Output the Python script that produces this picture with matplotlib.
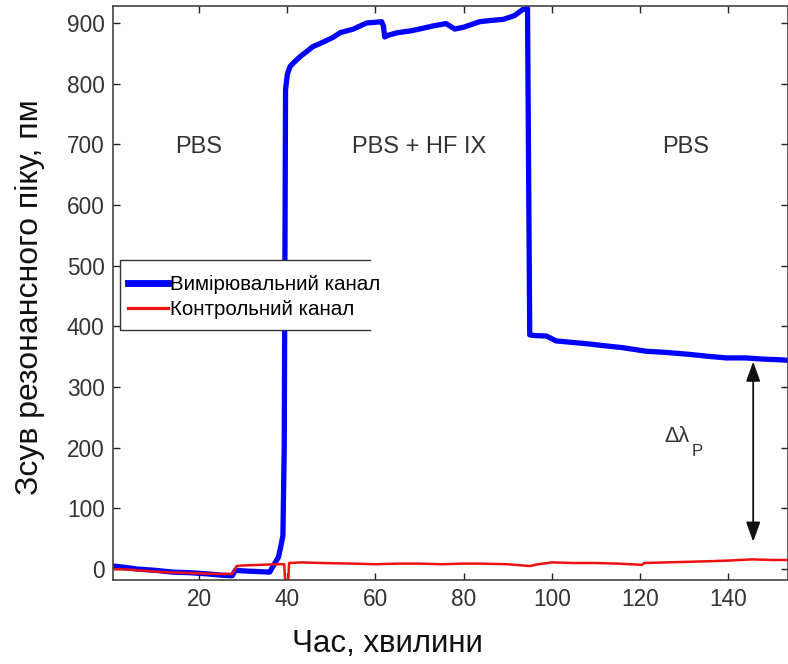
import matplotlib
matplotlib.use("Agg")
import matplotlib.pyplot as plt
from matplotlib.patches import Rectangle

plt.rcParams['font.family'] = ['Liberation Sans', 'DejaVu Sans']

# Measuring channel (blue)
blue_t = [0.5, 3, 6, 10, 14, 18, 22, 25, 27.5, 28.2, 30, 33, 36, 37.2, 38.0, 38.6, 39.0, 39.3,
          39.6, 40.0, 40.6, 41.5, 43, 45.8, 48, 50.3, 52, 55, 58, 61.4, 61.8, 62.1, 63, 65,
          68, 70, 73, 76, 78, 80, 83.6, 86, 89, 91.5, 93.4, 94.5, 94.8, 95.0, 96, 98.8, 101,
          104, 108.5, 112, 116, 121.4, 126, 131, 135, 139.6, 144, 148, 151.6, 153.6]
blue_v = [5, 3, 0, -2, -5, -6, -8, -10, -11, -2, -3, -4, -5, 10, 20, 40, 55, 200,
          790, 815, 828, 835, 845, 861, 868, 876, 884, 890, 900, 902, 895, 877, 880, 884,
          887, 890, 895, 899, 890, 893, 902, 904, 906, 912, 922, 924, 600, 386, 385, 384, 376,
          374, 371, 368, 365, 359, 357, 354, 351, 348, 348, 346, 345, 344]

# Control channel (red)
red_t = [0.5, 4, 8, 12, 16, 20, 24, 27.5, 28.5, 30, 34, 37, 39.3, 39.5, 40.2, 40.4, 43, 48,
         55, 60, 65, 70, 75, 80, 83.6, 90, 95, 97, 100, 105, 110, 115, 120.5, 121, 126, 131,
         136, 140, 145.5, 150, 153.6]
red_v = [0, -1, -3, -5, -6, -7, -8, -8, 5, 6, 7, 8, 8, -20, -20, 10, 11, 10,
         9, 8, 9, 9, 8, 9, 9, 8, 5, 8, 11, 10, 10, 9, 7, 10, 11, 12,
         13, 14, 16, 15, 15]

x_ticks = [20, 40, 60, 80, 100, 120, 140]
y_ticks = [0, 100, 200, 300, 400, 500, 600, 700, 800, 900]
phase_labels = ['PBS', 'PBS + HF IX', 'PBS']
phase_x = [19.8, 70, 130.3]
phase_y = 695
series_names = ['Вимірювальний канал', 'Контрольний канал']

fig = plt.figure(figsize=(7.88, 6.64), dpi=100)
ax = fig.add_axes([0.1434, 0.1265, 0.8566, 0.8645])

ax.plot(blue_t, blue_v, color='#0000ff', lw=3.8, label=series_names[0], solid_joinstyle='round')
ax.plot(red_t, red_v, color='#ee1111', lw=1.8, label=series_names[1])

ax.set_xlim(0.45, 153.6)
ax.set_ylim(-18, 928)
ax.set_xticks(x_ticks)
ax.set_yticks(y_ticks)
ax.tick_params(direction='in', top=True, right=True, labelsize=16.3, length=5, width=1,
               colors='#222222', labelcolor='#333333', pad=6)
for s in ax.spines.values():
    s.set_color('#444444')
    s.set_linewidth(1.2)

ax.set_xlabel('Час, хвилини', fontsize=22.5, color='#111111')
ax.xaxis.set_label_coords(0.407, -0.085)
ax.set_ylabel('Зсув резонансного піку, пм', fontsize=23, color='#111111')
ax.yaxis.set_label_coords(-0.101, 0.492)

for lab, xx in zip(phase_labels, phase_x):
    ax.text(xx, phase_y, lab, fontsize=17, ha='center', va='center', color='#333333')

ax.annotate('', xy=(145.7, 45), xytext=(145.7, 342),
            arrowprops=dict(arrowstyle='<|-|>,head_length=0.75,head_width=0.27',
                            color='#111111', lw=1.3, mutation_scale=16,
                            shrinkA=0, shrinkB=0))
ax.text(128.4, 218, 'Δλ', fontsize=15.5, ha='center', va='center', color='#333333')
ax.text(133.0, 194, 'P', fontsize=12, ha='center', va='center', color='#333333')

# legend box: white fill, frame open on the right, like the reference
ax.add_patch(Rectangle((0.0104, 0.4355), 0.3706, 0.1215, transform=ax.transAxes,
                       facecolor='white', edgecolor='none', zorder=3))
ax.plot([0.381, 0.0104, 0.0104, 0.381], [0.557, 0.557, 0.4355, 0.4355],
        transform=ax.transAxes, color='#333333', lw=1.0, clip_on=False, zorder=4)
leg = ax.legend(loc='upper left', bbox_to_anchor=(0.0222, 0.531), fontsize=14.8,
                frameon=False, handlelength=1.95, handletextpad=0.1,
                borderpad=0.0, labelspacing=0.3, borderaxespad=0)
leg.set_zorder(5)
for h in leg.get_lines():
    h.set_linewidth(h.get_linewidth() * 1.3)

fig.savefig('out.png', dpi=100)
